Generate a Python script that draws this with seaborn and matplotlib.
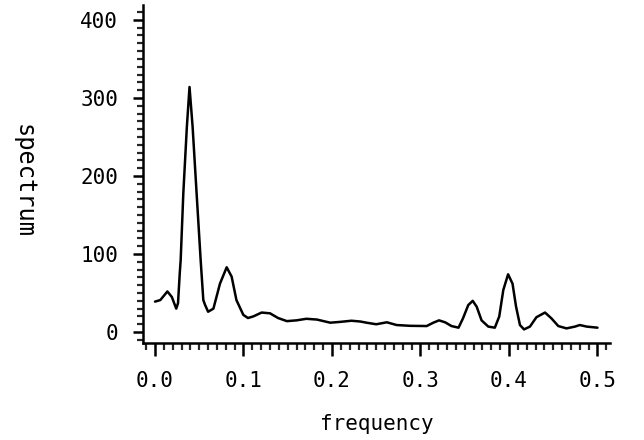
import matplotlib

matplotlib.use("Agg")

import matplotlib.pyplot as plt
import numpy as np
import pandas as pd
import seaborn as sns
from matplotlib.ticker import MultipleLocator

# values
frequency = [
    0.000, 0.006, 0.014, 0.019, 0.024, 0.026, 0.028, 0.029, 0.032, 0.036,
    0.039, 0.0425, 0.047, 0.0516, 0.0546, 0.0565, 0.060, 0.066, 0.0734, 0.081,
    0.0866, 0.092, 0.0998, 0.105, 0.111, 0.1205, 0.130, 0.139, 0.149, 0.160,
    0.171, 0.183, 0.198, 0.209, 0.222, 0.232, 0.239, 0.250, 0.262, 0.273,
    0.288, 0.307, 0.3145, 0.321, 0.328, 0.335, 0.343, 0.348, 0.354, 0.359,
    0.3635, 0.369, 0.3766, 0.384, 0.389, 0.3936, 0.399, 0.404, 0.408, 0.4124,
    0.417, 0.4237, 0.431, 0.4407, 0.448, 0.4557, 0.465, 0.4746, 0.480, 0.4878,
    0.500,
]
spectrum = [
    39, 41, 52, 45, 30, 37, 76, 92, 178, 263,
    314, 263, 178, 92, 41, 35, 26, 30, 62, 83,
    71, 41, 22, 18, 20, 25, 24, 18, 14, 15,
    17, 16, 12, 13, 14.5, 13.5, 12, 10, 12.5, 9,
    8, 7.7, 12, 15, 12.4, 7.7, 5.6, 17.5, 34.6, 40,
    32.5, 15, 7, 5.6, 20, 54, 74, 62, 32.5, 9,
    3.4, 7, 19, 25, 17.5, 7.7, 4.7, 7, 9, 7,
    5.6,
]

x_ticks = [0.0, 0.1, 0.2, 0.3, 0.4, 0.5]
x_tick_labels = ["0.0", "0.1", "0.2", "0.3", "0.4", "0.5"]
y_ticks = [0, 100, 200, 300, 400]

df = pd.DataFrame({"frequency": frequency, "spectrum": spectrum})

sns.set_theme(style="ticks")
plt.rcParams["font.family"] = ["DejaVu Sans Mono", "DejaVu Sans"]

fig = plt.figure(figsize=(6.44, 4.4), dpi=100)
ax = fig.add_axes([0.222, 0.2205, 0.725, 0.768])

sns.lineplot(data=df, x="frequency", y="spectrum", color="black",
             linewidth=1.8, ax=ax)

ax.set_xlim(-0.0136, 0.514)
ax.set_ylim(-14, 419)
sns.despine(ax=ax)
for side in ["left", "bottom"]:
    ax.spines[side].set_linewidth(1.8)
    ax.spines[side].set_color("black")

ax.set_xticks(x_ticks)
ax.set_xticklabels(x_tick_labels)
ax.set_yticks(y_ticks)
ax.xaxis.set_minor_locator(MultipleLocator(0.01))
ax.yaxis.set_minor_locator(MultipleLocator(10))
ax.tick_params(axis="x", which="major", direction="out", length=9, width=1.8,
               pad=11, labelsize=15, colors="black")
ax.tick_params(axis="x", which="minor", direction="out", length=5, width=1.6)
ax.tick_params(axis="y", which="major", direction="out", length=7, width=1.8,
               pad=11, labelsize=15, colors="black")
ax.tick_params(axis="y", which="minor", direction="out", length=4, width=1.6)

ax.set_xlabel("frequency", fontsize=15, color="black", va="center")
ax.xaxis.set_label_coords(0.5, -0.24)
ax.set_ylabel("spectrum", fontsize=17, rotation=-90, va="center",
              color="black")
ax.yaxis.set_label_coords(-0.255, 0.48)

fig.savefig("out.png", dpi=100)
plt.close(fig)
